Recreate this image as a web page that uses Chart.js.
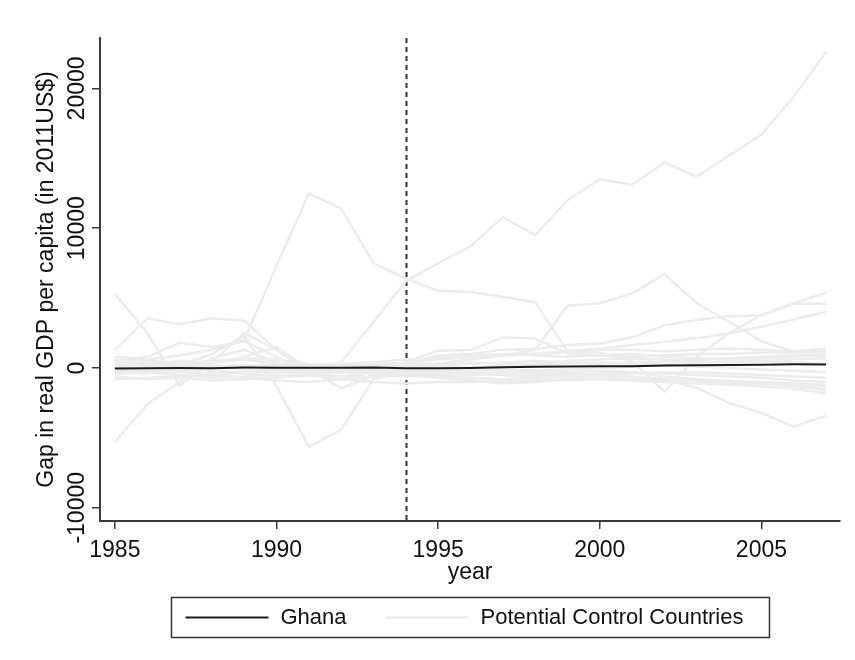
<!DOCTYPE html>
<html>
<head>
<meta charset="utf-8">
<script src="https://cdn.jsdelivr.net/npm/chart.js@4.4.1/dist/chart.umd.min.js"></script>
<style>
  html, body { margin: 0; padding: 0; background: #ffffff; }
  #wrap { width: 855px; height: 660px; }
</style>
</head>
<body>
<div id="wrap"><canvas id="gapChart" width="855" height="660"></canvas></div>
<script>
// Years covered by the gap series
const years = [1985,1986,1987,1988,1989,1990,1991,1992,1993,1994,1995,1996,1997,1998,1999,2000,2001,2002,2003,2004,2005,2006,2007];

// Gap in real GDP per capita, Ghana vs. its synthetic control
const ghanaGap = [-30,-20,0,-10,30,20,10,20,40,-10,-20,0,50,90,110,120,130,170,200,210,230,260,250];

// Placebo gaps for the potential control countries
const control01 = [-5300,-2600,-1000,700,1300,400,-300,400,3300,6200,7500,8700,10800,9500,12000,13500,13100,14700,13700,15200,16700,19400,22600];
const control02 = [300,500,200,1000,2300,-1300,-5630,-4430,-800,-300,-200,-400,-500,-600,-700,-600,-700,-900,-1000,-1100,-1100,-1200,-1300];
const control03 = [800,600,900,1300,2000,7300,12500,11400,7500,6400,5530,5440,5100,4700,1200,1100,500,-1700,800,2500,3800,4630,5390];
const control04 = [1300,3550,3130,3550,3380,1300,-300,0,200,300,600,800,900,1000,1100,1300,1300,1200,1300,1400,1300,1200,1300];
const control05 = [5300,2500,-1250,400,2500,1300,-200,-300,100,200,300,400,300,200,300,400,300,300,400,500,500,600,700];
const control06 = [500,800,1800,1500,1900,800,-300,-800,-300,450,1240,1290,2190,2120,1000,900,800,900,1000,1000,1100,1100,1200];
const control07 = [200,300,100,-200,-400,-600,-400,-200,0,100,300,600,900,1300,4460,4630,5340,6720,4630,3310,1900,1170,1400];
const control08 = [-200,-100,0,100,200,100,0,100,200,300,900,1000,1300,1360,1650,1750,2200,3050,3430,3700,3750,4600,4600];
const control09 = [400,300,500,400,600,300,200,300,400,300,700,800,900,1000,1200,1400,1650,1880,2120,2480,2950,3480,4030];
const control10 = [-300,-400,-200,-500,-300,-200,-100,-300,-400,-300,-400,-500,-400,-300,-400,-500,-600,-800,-1430,-2500,-3220,-4200,-3410];
const control11 = [-600,-800,-700,-900,-800,-700,-500,-800,-1000,-1100,-1000,-1000,-950,-900,-850,-800,-900,-1000,-1100,-1200,-1300,-1400,-1500];
const control12 = [100,200,0,300,800,1500,-100,-1450,-500,-200,-300,-200,-100,-200,-300,-200,-300,-400,-500,-600,-700,-900,-1000];
const control13 = [-100,-200,-300,-400,-300,-200,0,200,400,600,700,900,1000,900,800,900,1000,800,700,600,700,800,900];
const control14 = [200,100,300,500,700,600,300,200,100,-100,-200,-300,-500,-600,-500,-400,-300,-600,-800,-900,-1100,-1200,-1600];
const control15 = [-400,-300,-500,-700,-600,-400,-200,-100,-200,-400,-600,-700,-800,-700,-600,-500,-400,-300,-300,-400,-500,-600,-700];
const control16 = [0,-100,100,-200,-400,-600,-500,-300,-100,0,200,300,400,500,400,300,400,500,600,700,800,900,1000];
const control17 = [600,500,400,200,0,-200,-400,-600,-300,0,100,0,-100,-200,-100,0,100,200,100,0,-100,-200,-300];
const control18 = [-800,-700,-600,-500,-700,-900,-1000,-800,-600,-500,-700,-900,-1100,-1000,-800,-700,-800,-900,-1000,-1100,-1300,-1500,-1800];
const control19 = [300,400,200,100,-100,0,100,0,-100,-200,-100,0,200,300,500,600,700,600,500,400,500,400,300];
const control20 = [-200,-100,-100,0,100,200,100,-200,-400,-600,-500,-400,-300,-400,-500,-600,-700,-800,-900,-1000,-1000,-1100,-1200];

const controlGaps = [control01,control02,control03,control04,control05,control06,control07,control08,control09,control10,
                     control11,control12,control13,control14,control15,control16,control17,control18,control19,control20];

// Axis ticks, reform year and series names
const xTickYears = [1985,1990,1995,2000,2005];
const yTickValues = [-10000,0,10000,20000];
const treatmentYear = 1994;
const treatedLabel = 'Ghana';
const controlLabel = 'Potential Control Countries';

const FONT_FAMILY = "'Liberation Sans', Arial, Helvetica, sans-serif";
const AXIS_FONT_SIZE = 23;
const LEGEND_FONT_SIZE = 22;
const AXIS_COLOR = '#3a3a3a';
const CONTROL_COLOR = '#ececec';
const TREATED_COLOR = '#1a1a1a';

const toPoints = (vals) => vals.map((v, i) => ({ x: years[i], y: v }));

const datasets = [
  {
    label: treatedLabel,
    data: toPoints(ghanaGap),
    borderColor: TREATED_COLOR,
    borderWidth: 2,
    pointRadius: 0,
    tension: 0,
    order: 0
  },
  ...controlGaps.map((vals) => ({
    label: controlLabel,
    data: toPoints(vals),
    borderColor: CONTROL_COLOR,
    borderWidth: 2.5,
    pointRadius: 0,
    tension: 0,
    order: 1
  }))
];

// Vertical dashed reference line at the reform year, drawn beneath the series
const treatmentLine = {
  id: 'treatmentLine',
  beforeDatasetsDraw(chart) {
    const { ctx, chartArea, scales } = chart;
    const x = Math.round(scales.x.getPixelForValue(treatmentYear)) + 0.5;
    ctx.save();
    ctx.strokeStyle = '#333333';
    ctx.lineWidth = 2;
    ctx.setLineDash([5, 4]);
    ctx.beginPath();
    ctx.moveTo(x, chartArea.top);
    ctx.lineTo(x, chartArea.bottom);
    ctx.stroke();
    ctx.restore();
  }
};

// Y tick labels written vertically, reading upward
const verticalYLabels = {
  id: 'verticalYLabels',
  afterDraw(chart) {
    const { ctx, scales } = chart;
    const ys = scales.y;
    ctx.save();
    ctx.font = AXIS_FONT_SIZE + 'px ' + FONT_FAMILY;
    ctx.fillStyle = '#111111';
    ctx.textAlign = 'center';
    ctx.textBaseline = 'alphabetic';
    ys.ticks.forEach((t) => {
      const y = ys.getPixelForValue(t.value);
      ctx.save();
      ctx.translate(ys.right - 16, y);
      ctx.rotate(-Math.PI / 2);
      ctx.fillText(String(t.value), 0, 0);
      ctx.restore();
    });
    ctx.restore();
  }
};

// Framed legend below the x-axis title
const framedLegend = {
  id: 'framedLegend',
  afterDraw(chart) {
    const { ctx, chartArea } = chart;
    const entries = [chart.data.datasets[0], chart.data.datasets[1]];
    ctx.save();
    ctx.font = LEGEND_FONT_SIZE + 'px ' + FONT_FAMILY;
    const sampleLen = 83, textGap = 12, itemGap = 39, padL = 14, padR = 26;
    const widths = entries.map((d) => ctx.measureText(d.label).width);
    const inner = sampleLen * 2 + textGap * 2 + widths[0] + itemGap + widths[1];
    const boxW = inner + padL + padR;
    const cx = (chartArea.left + chartArea.right) / 2;
    const boxL = Math.round(cx - boxW / 2) + 0.5;
    const boxT = chartArea.bottom + 76.5;
    const boxH = 40;
    const midY = boxT + boxH / 2;
    ctx.strokeStyle = '#333333';
    ctx.lineWidth = 1.5;
    ctx.strokeRect(boxL, boxT, boxW, boxH);
    let x = boxL + padL;
    entries.forEach((d, i) => {
      ctx.strokeStyle = d.borderColor;
      ctx.lineWidth = d.borderWidth;
      ctx.beginPath();
      ctx.moveTo(x, midY);
      ctx.lineTo(x + sampleLen, midY);
      ctx.stroke();
      x += sampleLen + textGap;
      ctx.fillStyle = '#111111';
      ctx.textBaseline = 'middle';
      ctx.textAlign = 'left';
      ctx.fillText(d.label, x, midY);
      x += widths[i] + itemGap;
    });
    ctx.restore();
  }
};

new Chart(document.getElementById('gapChart'), {
  type: 'line',
  data: { datasets },
  plugins: [treatmentLine, verticalYLabels, framedLegend],
  options: {
    responsive: false,
    animation: false,
    devicePixelRatio: 1,
    layout: { padding: { left: 0, right: 15, top: 38, bottom: 63 } },
    plugins: {
      legend: { display: false },
      tooltip: { enabled: false },
      title: { display: false }
    },
    scales: {
      x: {
        type: 'linear',
        position: 'bottom',
        min: 1984.54,
        max: 2007.43,
        afterBuildTicks: (s) => { s.ticks = xTickYears.map((v) => ({ value: v })); },
        afterFit: (s) => { s.height = 76; },
        grid: { drawOnChartArea: false, drawTicks: true, tickLength: 8, color: AXIS_COLOR, lineWidth: 1.5 },
        border: { display: true, color: AXIS_COLOR, width: 2 },
        ticks: {
          color: '#111111',
          font: { family: FONT_FAMILY, size: AXIS_FONT_SIZE },
          padding: 8,
          maxRotation: 0,
          autoSkip: false,
          callback: (v) => String(v)
        },
        title: {
          display: true,
          text: 'year',
          color: '#111111',
          font: { family: FONT_FAMILY, size: AXIS_FONT_SIZE },
          padding: { top: 0, bottom: 11 }
        }
      },
      y: {
        type: 'linear',
        position: 'left',
        min: -10944,
        max: 23605,
        afterBuildTicks: (s) => { s.ticks = yTickValues.map((v) => ({ value: v })); },
        afterFit: (s) => { s.width = 100; },
        grid: { drawOnChartArea: false, drawTicks: true, tickLength: 8, color: AXIS_COLOR, lineWidth: 1.5 },
        border: { display: true, color: AXIS_COLOR, width: 2 },
        ticks: { display: false },
        title: {
          display: true,
          text: 'Gap in real GDP per capita (in 2011US$)',
          color: '#111111',
          font: { family: FONT_FAMILY, size: AXIS_FONT_SIZE },
          padding: { top: 33, bottom: 0 }
        }
      }
    }
  }
});
</script>
</body>
</html>
